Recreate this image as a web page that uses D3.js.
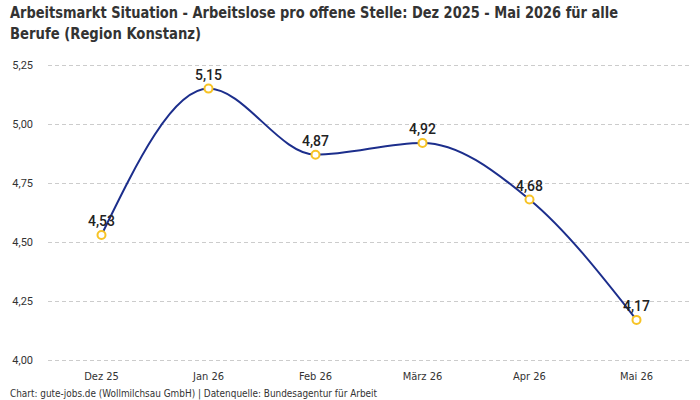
<!DOCTYPE html>
<html lang="de">
<head>
<meta charset="UTF-8">
<script src="https://d3js.org/d3.v7.min.js"></script>
<style>
    body { margin: 0; background: #fff; }
    .title { font-family: "DejaVu Sans Condensed", sans-serif; font-weight: bold; font-size: 16px; fill: #333; }
    .ytick { font-family: Roboto, sans-serif; font-size: 11px; fill: #333; }
    .xtick { font-family: "DejaVu Sans Condensed", sans-serif; font-size: 11px; fill: #333; }
    .foot { font-family: "DejaVu Sans Condensed", sans-serif; font-size: 10px; fill: #333; }
    .lbl { font-family: Roboto, sans-serif; font-weight: 500; font-size: 14px; fill: #222; }
</style>
</head>
<body>
<script>
    var months = ["Dez 25", "Jan 26", "Feb 26", "März 26", "Apr 26", "Mai 26"];
    var values = [4.53, 5.15, 4.87, 4.92, 4.68, 4.17];
    var yTicks = [4.00, 4.25, 4.50, 4.75, 5.00, 5.25];

    var width = 700, height = 400;
    var svg = d3.select("body").append("svg")
        .attr("width", width)
        .attr("height", height);

    // title, squeezed to the reference width
    var title = svg.append("text").attr("class", "title");
    title.append("tspan").attr("x", 10).attr("y", 18)
        .attr("textLength", 608).attr("lengthAdjust", "spacingAndGlyphs")
        .text("Arbeitsmarkt Situation - Arbeitslose pro offene Stelle: Dez 2025 - Mai 2026 für alle");
    title.append("tspan").attr("x", 10).attr("y", 39)
        .attr("textLength", 191).attr("lengthAdjust", "spacingAndGlyphs")
        .text("Berufe (Region Konstanz)");

    var x = d3.scaleBand().domain(months).range([48, 690]);
    var y = d3.scaleLinear().domain([4, 5.25]).range([360, 65]);
    var fmt = function (d) { return d3.format(".2f")(d).replace(".", ","); };

    // grid
    svg.append("g").selectAll("line")
        .data(yTicks).enter().append("line")
        .attr("x1", 48).attr("x2", 690)
        .attr("y1", function (d) { return y(d) + 0.5; })
        .attr("y2", function (d) { return y(d) + 0.5; })
        .attr("stroke", "#ccc")
        .attr("stroke-dasharray", "4,3");

    svg.append("g").selectAll("text")
        .data(yTicks).enter().append("text")
        .attr("class", "ytick")
        .attr("x", 33).attr("y", function (d) { return y(d) + 4; })
        .attr("text-anchor", "end")
        .text(fmt);

    svg.append("g").selectAll("text")
        .data(months).enter().append("text")
        .attr("class", "xtick")
        .attr("x", function (d) { return x(d) + x.bandwidth() / 2; })
        .attr("y", 380)
        .attr("text-anchor", "middle")
        .text(function (d) { return d; });

    var cx = function (d, i) { return x(months[i]) + x.bandwidth() / 2; };

    var line = d3.line()
        .x(cx)
        .y(function (d) { return y(d); })
        .curve(d3.curveMonotoneX);

    svg.append("path")
        .datum(values)
        .attr("d", line)
        .attr("fill", "none")
        .attr("stroke", "#1c2e8c")
        .attr("stroke-width", 2);

    svg.append("g").selectAll("circle")
        .data(values).enter().append("circle")
        .attr("cx", cx)
        .attr("cy", function (d) { return y(d); })
        .attr("r", 4)
        .attr("fill", "#fff")
        .attr("stroke", "#f7c325")
        .attr("stroke-width", 2);

    svg.append("g").selectAll("text")
        .data(values).enter().append("text")
        .attr("class", "lbl")
        .attr("x", cx)
        .attr("y", function (d) { return y(d) - 9; })
        .attr("text-anchor", "middle")
        .text(fmt);

    svg.append("text").attr("class", "foot")
        .attr("x", 10).attr("y", 397)
        .attr("textLength", 367).attr("lengthAdjust", "spacingAndGlyphs")
        .text("Chart: gute-jobs.de (Wollmilchsau GmbH) | Datenquelle: Bundesagentur für Arbeit");
</script>
</body>
</html>
